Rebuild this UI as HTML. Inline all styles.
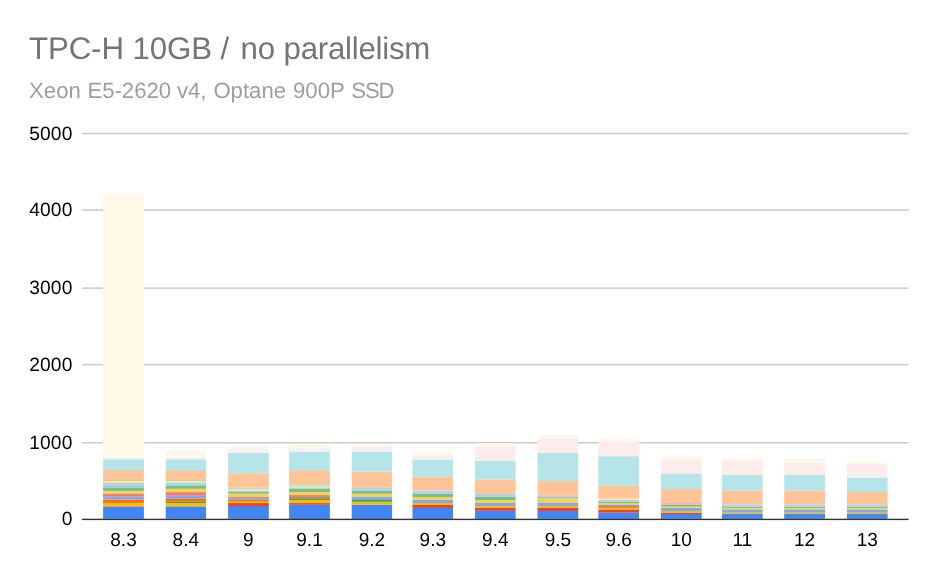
<!DOCTYPE html>
<html><head><meta charset="utf-8"><title>TPC-H 10GB / no parallelism</title>
<style>
html,body{margin:0;padding:0;background:#fff;}
body{width:937px;height:579px;overflow:hidden;font-family:"Liberation Sans",Arial,sans-serif;}
svg{display:block;}
svg text{font-family:"Liberation Sans",Arial,sans-serif;text-rendering:geometricPrecision;}
</style></head><body>
<svg width="937" height="579" viewBox="0 0 937 579">
<rect x="0" y="0" width="937" height="579" fill="#ffffff"/>
<text y="58.6" font-size="31.23" fill="#757575"><tspan x="28.9" textLength="200.4" lengthAdjust="spacing">TPC-H 10GB /</tspan> <tspan x="240.4">no</tspan> <tspan x="283.5" textLength="146.8" lengthAdjust="spacing">parallelism</tspan></text>
<text y="98.4" font-size="22.17" fill="#9e9e9e"><tspan x="29.1">Xeon</tspan> <tspan x="87.4">E5-2620</tspan> <tspan x="176.9">v4,</tspan> <tspan x="213.4">Optane</tspan> <tspan x="293.0">900P</tspan> <tspan x="351.2" textLength="43.4" lengthAdjust="spacing">SSD</tspan></text>
<g fill="#cccccc">
<rect x="82.1" y="132.74" width="826.5" height="1.56"/>
<rect x="82.1" y="209.27" width="826.5" height="1.56"/>
<rect x="82.1" y="287.35" width="826.5" height="1.56"/>
<rect x="82.1" y="363.88" width="826.5" height="1.56"/>
<rect x="82.1" y="441.96" width="826.5" height="1.56"/>
</g>
<g>
<rect x="103.1" y="506.3" width="40.8" height="12.5" fill="#4285F4"/>
<rect x="103.1" y="502.7" width="40.8" height="3.8" fill="#FBBC04"/>
<rect x="103.1" y="499.6" width="40.8" height="3.3" fill="#FF6D01"/>
<rect x="103.1" y="496.6" width="40.8" height="3.1" fill="#7BAAF7"/>
<rect x="103.1" y="493.7" width="40.8" height="3.0" fill="#F07B72"/>
<rect x="103.1" y="490.7" width="40.8" height="3.1" fill="#FCD04F"/>
<rect x="103.1" y="487.6" width="40.8" height="3.3" fill="#71C287"/>
<rect x="103.1" y="485.3" width="40.8" height="2.4" fill="#7ED1D7"/>
<rect x="103.1" y="484.0" width="40.8" height="1.5" fill="#B3CEFB"/>
<rect x="103.1" y="482.9" width="40.8" height="1.3" fill="#F7B4AE"/>
<rect x="103.1" y="480.9" width="40.8" height="2.1" fill="#FDE49B"/>
<rect x="103.1" y="479.8" width="40.8" height="1.2" fill="#AEDCBA"/>
<rect x="103.1" y="470.0" width="40.8" height="10.0" fill="#FFC599"/>
<rect x="103.1" y="459.2" width="40.8" height="11.0" fill="#B5E5E8"/>
<rect x="103.1" y="457.8" width="40.8" height="1.5" fill="#ECF3FE"/>
<rect x="103.1" y="193.6" width="40.8" height="264.4" fill="#FEF8E6"/>
</g>
<g>
<rect x="165.7" y="506.3" width="40.3" height="12.5" fill="#4285F4"/>
<rect x="165.7" y="502.9" width="40.3" height="3.6" fill="#FBBC04"/>
<rect x="165.7" y="501.5" width="40.3" height="1.5" fill="#34A853"/>
<rect x="165.7" y="498.5" width="40.3" height="3.1" fill="#FF6D01"/>
<rect x="165.7" y="495.4" width="40.3" height="3.3" fill="#7BAAF7"/>
<rect x="165.7" y="492.1" width="40.3" height="3.5" fill="#F07B72"/>
<rect x="165.7" y="488.7" width="40.3" height="3.5" fill="#FCD04F"/>
<rect x="165.7" y="485.7" width="40.3" height="3.1" fill="#71C287"/>
<rect x="165.7" y="484.7" width="40.3" height="1.1" fill="#7ED1D7"/>
<rect x="165.7" y="482.6" width="40.3" height="2.3" fill="#B3CEFB"/>
<rect x="165.7" y="480.9" width="40.3" height="1.8" fill="#FDE49B"/>
<rect x="165.7" y="479.8" width="40.3" height="1.2" fill="#AEDCBA"/>
<rect x="165.7" y="470.2" width="40.3" height="9.8" fill="#FFC599"/>
<rect x="165.7" y="459.2" width="40.3" height="11.2" fill="#B5E5E8"/>
<rect x="165.7" y="457.4" width="40.3" height="2.0" fill="#ECF3FE"/>
<rect x="165.7" y="452.2" width="40.3" height="5.3" fill="#FEF8E6"/>
<rect x="165.7" y="451.3" width="40.3" height="1.0" fill="#EBF6EE"/>
</g>
<g>
<rect x="228.1" y="506.0" width="40.7" height="12.8" fill="#4285F4"/>
<rect x="228.1" y="503.0" width="40.7" height="3.1" fill="#EA4335"/>
<rect x="228.1" y="501.0" width="40.7" height="2.1" fill="#FBBC04"/>
<rect x="228.1" y="499.6" width="40.7" height="1.6" fill="#FF6D01"/>
<rect x="228.1" y="497.8" width="40.7" height="1.9" fill="#7BAAF7"/>
<rect x="228.1" y="496.8" width="40.7" height="1.1" fill="#F07B72"/>
<rect x="228.1" y="493.5" width="40.7" height="3.5" fill="#FCD04F"/>
<rect x="228.1" y="491.8" width="40.7" height="1.8" fill="#71C287"/>
<rect x="228.1" y="490.4" width="40.7" height="1.6" fill="#B3CEFB"/>
<rect x="228.1" y="488.7" width="40.7" height="1.8" fill="#FDE49B"/>
<rect x="228.1" y="487.6" width="40.7" height="1.3" fill="#AEDCBA"/>
<rect x="228.1" y="473.3" width="40.7" height="14.4" fill="#FFC599"/>
<rect x="228.1" y="452.7" width="40.7" height="20.8" fill="#B5E5E8"/>
<rect x="228.1" y="451.3" width="40.7" height="1.5" fill="#ECF3FE"/>
<rect x="228.1" y="449.6" width="40.7" height="1.9" fill="#FDECEB"/>
<rect x="228.1" y="447.5" width="40.7" height="2.2" fill="#FEF8E6"/>
<rect x="228.1" y="446.5" width="40.7" height="1.1" fill="#EBF6EE"/>
</g>
<g>
<rect x="289.1" y="504.6" width="40.8" height="14.3" fill="#4285F4"/>
<rect x="289.1" y="503.0" width="40.8" height="1.7" fill="#EA4335"/>
<rect x="289.1" y="499.9" width="40.8" height="3.3" fill="#FBBC04"/>
<rect x="289.1" y="498.5" width="40.8" height="1.5" fill="#34A853"/>
<rect x="289.1" y="496.8" width="40.8" height="1.8" fill="#FF6D01"/>
<rect x="289.1" y="495.7" width="40.8" height="1.3" fill="#7BAAF7"/>
<rect x="289.1" y="494.9" width="40.8" height="1.0" fill="#F07B72"/>
<rect x="289.1" y="491.8" width="40.8" height="3.2" fill="#FCD04F"/>
<rect x="289.1" y="488.7" width="40.8" height="3.3" fill="#71C287"/>
<rect x="289.1" y="487.3" width="40.8" height="1.5" fill="#B3CEFB"/>
<rect x="289.1" y="485.7" width="40.8" height="1.8" fill="#FDE49B"/>
<rect x="289.1" y="484.2" width="40.8" height="1.6" fill="#AEDCBA"/>
<rect x="289.1" y="470.2" width="40.8" height="14.2" fill="#FFC599"/>
<rect x="289.1" y="451.6" width="40.8" height="18.8" fill="#B5E5E8"/>
<rect x="289.1" y="449.3" width="40.8" height="2.4" fill="#ECF3FE"/>
<rect x="289.1" y="448.2" width="40.8" height="1.3" fill="#FDECEB"/>
<rect x="289.1" y="445.1" width="40.8" height="3.3" fill="#FEF8E6"/>
</g>
<g>
<rect x="351.7" y="504.6" width="40.4" height="14.3" fill="#4285F4"/>
<rect x="351.7" y="501.5" width="40.4" height="3.2" fill="#FBBC04"/>
<rect x="351.7" y="499.9" width="40.4" height="1.8" fill="#34A853"/>
<rect x="351.7" y="496.8" width="40.4" height="3.2" fill="#7BAAF7"/>
<rect x="351.7" y="493.5" width="40.4" height="3.5" fill="#FCD04F"/>
<rect x="351.7" y="490.7" width="40.4" height="3.0" fill="#71C287"/>
<rect x="351.7" y="488.7" width="40.4" height="2.1" fill="#B3CEFB"/>
<rect x="351.7" y="487.3" width="40.4" height="1.5" fill="#AEDCBA"/>
<rect x="351.7" y="471.6" width="40.4" height="15.9" fill="#FFC599"/>
<rect x="351.7" y="451.6" width="40.4" height="20.1" fill="#B5E5E8"/>
<rect x="351.7" y="449.6" width="40.4" height="2.1" fill="#ECF3FE"/>
<rect x="351.7" y="446.4" width="40.4" height="3.3" fill="#FDECEB"/>
<rect x="351.7" y="445.1" width="40.4" height="1.5" fill="#FEF8E6"/>
</g>
<g>
<rect x="412.5" y="507.7" width="40.5" height="11.2" fill="#4285F4"/>
<rect x="412.5" y="504.9" width="40.5" height="3.0" fill="#EA4335"/>
<rect x="412.5" y="502.9" width="40.5" height="2.1" fill="#FBBC04"/>
<rect x="412.5" y="499.8" width="40.5" height="3.2" fill="#7BAAF7"/>
<rect x="412.5" y="496.8" width="40.5" height="3.1" fill="#FCD04F"/>
<rect x="412.5" y="493.7" width="40.5" height="3.3" fill="#71C287"/>
<rect x="412.5" y="491.1" width="40.5" height="2.8" fill="#B3CEFB"/>
<rect x="412.5" y="490.4" width="40.5" height="0.8" fill="#AEDCBA"/>
<rect x="412.5" y="476.5" width="40.5" height="14.0" fill="#FFC599"/>
<rect x="412.5" y="459.5" width="40.5" height="17.1" fill="#B5E5E8"/>
<rect x="412.5" y="457.8" width="40.5" height="1.8" fill="#ECF3FE"/>
<rect x="412.5" y="456.0" width="40.5" height="2.0" fill="#FDECEB"/>
<rect x="412.5" y="452.9" width="40.5" height="3.3" fill="#FEF8E6"/>
</g>
<g>
<rect x="475.0" y="510.7" width="40.6" height="8.2" fill="#4285F4"/>
<rect x="475.0" y="507.7" width="40.6" height="3.1" fill="#EA4335"/>
<rect x="475.0" y="505.8" width="40.6" height="2.0" fill="#FBBC04"/>
<rect x="475.0" y="502.9" width="40.6" height="3.1" fill="#7BAAF7"/>
<rect x="475.0" y="499.8" width="40.6" height="3.2" fill="#FCD04F"/>
<rect x="475.0" y="496.6" width="40.6" height="3.4" fill="#71C287"/>
<rect x="475.0" y="494.9" width="40.6" height="1.8" fill="#B3CEFB"/>
<rect x="475.0" y="493.7" width="40.6" height="1.3" fill="#AEDCBA"/>
<rect x="475.0" y="479.6" width="40.6" height="14.3" fill="#FFC599"/>
<rect x="475.0" y="460.7" width="40.6" height="19.0" fill="#B5E5E8"/>
<rect x="475.0" y="446.5" width="40.6" height="14.3" fill="#FDECEB"/>
<rect x="475.0" y="443.4" width="40.6" height="3.3" fill="#FEF8E6"/>
</g>
<g>
<rect x="537.5" y="510.8" width="40.7" height="8.0" fill="#4285F4"/>
<rect x="537.5" y="507.6" width="40.7" height="3.4" fill="#EA4335"/>
<rect x="537.5" y="506.0" width="40.7" height="1.7" fill="#FBBC04"/>
<rect x="537.5" y="502.8" width="40.7" height="3.3" fill="#7BAAF7"/>
<rect x="537.5" y="498.4" width="40.7" height="4.6" fill="#FCD04F"/>
<rect x="537.5" y="496.8" width="40.7" height="1.7" fill="#7ED1D7"/>
<rect x="537.5" y="495.3" width="40.7" height="1.6" fill="#F7B4AE"/>
<rect x="537.5" y="480.9" width="40.7" height="14.6" fill="#FFC599"/>
<rect x="537.5" y="452.9" width="40.7" height="28.1" fill="#B5E5E8"/>
<rect x="537.5" y="438.8" width="40.7" height="14.2" fill="#FDECEB"/>
<rect x="537.5" y="435.7" width="40.7" height="3.3" fill="#FEF8E6"/>
</g>
<g>
<rect x="598.3" y="512.5" width="40.7" height="6.4" fill="#4285F4"/>
<rect x="598.3" y="509.5" width="40.7" height="3.1" fill="#EA4335"/>
<rect x="598.3" y="507.6" width="40.7" height="2.1" fill="#FBBC04"/>
<rect x="598.3" y="506.0" width="40.7" height="1.7" fill="#FF6D01"/>
<rect x="598.3" y="504.4" width="40.7" height="1.8" fill="#7BAAF7"/>
<rect x="598.3" y="502.8" width="40.7" height="1.7" fill="#FCD04F"/>
<rect x="598.3" y="501.6" width="40.7" height="1.4" fill="#71C287"/>
<rect x="598.3" y="499.7" width="40.7" height="2.0" fill="#B3CEFB"/>
<rect x="598.3" y="498.1" width="40.7" height="1.8" fill="#FDE49B"/>
<rect x="598.3" y="485.7" width="40.7" height="12.5" fill="#FFC599"/>
<rect x="598.3" y="456.1" width="40.7" height="29.8" fill="#B5E5E8"/>
<rect x="598.3" y="441.6" width="40.7" height="14.7" fill="#FDECEB"/>
<rect x="598.3" y="438.8" width="40.7" height="2.9" fill="#FEF8E6"/>
</g>
<g>
<rect x="660.9" y="513.9" width="40.8" height="4.9" fill="#4285F4"/>
<rect x="660.9" y="512.6" width="40.8" height="1.5" fill="#EA4335"/>
<rect x="660.9" y="510.9" width="40.8" height="1.8" fill="#FBBC04"/>
<rect x="660.9" y="507.7" width="40.8" height="3.3" fill="#7BAAF7"/>
<rect x="660.9" y="506.3" width="40.8" height="1.5" fill="#FCD04F"/>
<rect x="660.9" y="504.6" width="40.8" height="1.9" fill="#71C287"/>
<rect x="660.9" y="502.7" width="40.8" height="2.0" fill="#F7B4AE"/>
<rect x="660.9" y="488.9" width="40.8" height="14.0" fill="#FFC599"/>
<rect x="660.9" y="473.4" width="40.8" height="15.7" fill="#B5E5E8"/>
<rect x="660.9" y="459.2" width="40.8" height="14.3" fill="#FDECEB"/>
<rect x="660.9" y="456.0" width="40.8" height="3.3" fill="#FEF8E6"/>
</g>
<g>
<rect x="722.0" y="513.9" width="40.6" height="4.9" fill="#4285F4"/>
<rect x="722.0" y="512.5" width="40.6" height="1.6" fill="#FBBC04"/>
<rect x="722.0" y="509.4" width="40.6" height="3.2" fill="#7BAAF7"/>
<rect x="722.0" y="507.7" width="40.6" height="1.8" fill="#FCD04F"/>
<rect x="722.0" y="506.6" width="40.6" height="1.3" fill="#71C287"/>
<rect x="722.0" y="505.9" width="40.6" height="0.8" fill="#AEDCBA"/>
<rect x="722.0" y="504.6" width="40.6" height="1.5" fill="#B3CEFB"/>
<rect x="722.0" y="490.4" width="40.6" height="14.3" fill="#FFC599"/>
<rect x="722.0" y="474.8" width="40.6" height="15.7" fill="#B5E5E8"/>
<rect x="722.0" y="460.7" width="40.6" height="14.3" fill="#FDECEB"/>
<rect x="722.0" y="459.0" width="40.6" height="1.8" fill="#FEF8E6"/>
</g>
<g>
<rect x="784.2" y="513.9" width="40.8" height="4.9" fill="#4285F4"/>
<rect x="784.2" y="512.5" width="40.8" height="1.6" fill="#FBBC04"/>
<rect x="784.2" y="509.4" width="40.8" height="3.2" fill="#7BAAF7"/>
<rect x="784.2" y="507.7" width="40.8" height="1.8" fill="#FCD04F"/>
<rect x="784.2" y="506.6" width="40.8" height="1.3" fill="#71C287"/>
<rect x="784.2" y="505.9" width="40.8" height="0.8" fill="#AEDCBA"/>
<rect x="784.2" y="504.6" width="40.8" height="1.5" fill="#B3CEFB"/>
<rect x="784.2" y="490.4" width="40.8" height="14.3" fill="#FFC599"/>
<rect x="784.2" y="474.8" width="40.8" height="15.7" fill="#B5E5E8"/>
<rect x="784.2" y="462.4" width="40.8" height="12.6" fill="#FDECEB"/>
<rect x="784.2" y="460.4" width="40.8" height="2.1" fill="#FEF8E6"/>
<rect x="784.2" y="459.0" width="40.8" height="1.5" fill="#EBF6EE"/>
</g>
<g>
<rect x="847.0" y="513.9" width="40.6" height="4.9" fill="#4285F4"/>
<rect x="847.0" y="512.5" width="40.6" height="1.6" fill="#FBBC04"/>
<rect x="847.0" y="509.4" width="40.6" height="3.2" fill="#7BAAF7"/>
<rect x="847.0" y="507.7" width="40.6" height="1.8" fill="#FCD04F"/>
<rect x="847.0" y="506.6" width="40.6" height="1.3" fill="#71C287"/>
<rect x="847.0" y="505.9" width="40.6" height="0.8" fill="#AEDCBA"/>
<rect x="847.0" y="504.6" width="40.6" height="1.5" fill="#B3CEFB"/>
<rect x="847.0" y="491.8" width="40.6" height="12.9" fill="#FFC599"/>
<rect x="847.0" y="477.7" width="40.6" height="14.3" fill="#B5E5E8"/>
<rect x="847.0" y="476.2" width="40.6" height="1.6" fill="#ECF3FE"/>
<rect x="847.0" y="463.8" width="40.6" height="12.5" fill="#FDECEB"/>
<rect x="847.0" y="462.1" width="40.6" height="1.9" fill="#FEF8E6"/>
</g>
<rect x="82.1" y="518.70" width="826.5" height="1.4" fill="#333333"/>
<g font-size="19.20" fill="#000000" text-anchor="end" letter-spacing="0.15">
<text x="72.5" y="139.7">5000</text>
<text x="72.5" y="216.2">4000</text>
<text x="72.5" y="294.3">3000</text>
<text x="72.5" y="370.9">2000</text>
<text x="72.5" y="448.9">1000</text>
<text x="72.5" y="525.3">0</text>
</g>
<g font-size="19.00" fill="#000000" text-anchor="middle">
<text x="123.5" y="546.1">8.3</text>
<text x="185.8" y="546.1">8.4</text>
<text x="248.4" y="546.1">9</text>
<text x="309.5" y="546.1">9.1</text>
<text x="371.9" y="546.1">9.2</text>
<text x="432.8" y="546.1">9.3</text>
<text x="495.3" y="546.1">9.4</text>
<text x="557.9" y="546.1">9.5</text>
<text x="618.6" y="546.1">9.6</text>
<text x="681.3" y="546.1">10</text>
<text x="742.3" y="546.1">11</text>
<text x="804.6" y="546.1">12</text>
<text x="867.3" y="546.1">13</text>
</g>
</svg>
</body></html>
